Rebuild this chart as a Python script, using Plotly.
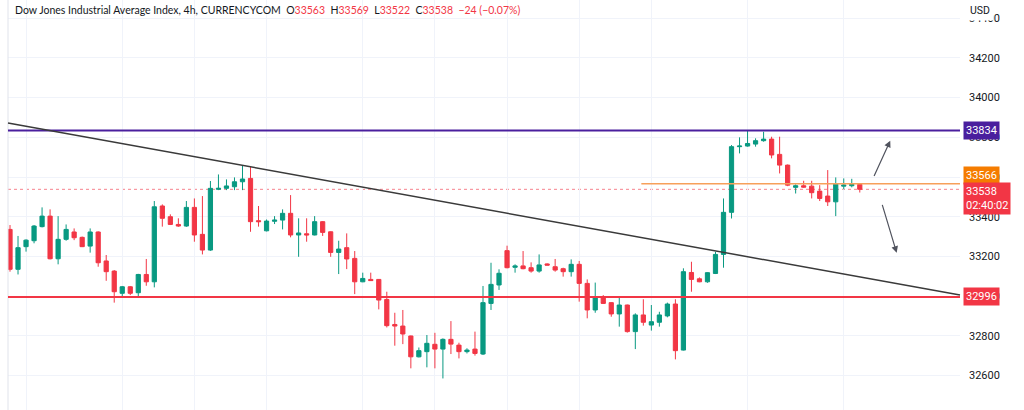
import plotly.graph_objects as go

# ---- data ----
opens = [33336, 33135, 33249, 33279, 33350, 33403, 33188, 33286, 33323, 33296,
         33252, 33323, 33177, 33126, 33014, 33047, 33017, 33109, 33072, 33454,
         33400, 33361, 33353, 33447, 33311, 33232, 33538, 33543, 33551, 33576,
         33593, 33380, 33329, 33377, 33383, 33417, 33308, 33314, 33308, 33375,
         33324, 33220, 33244, 33190, 33072, 33084, 33084, 32983, 32857, 32849,
         32799, 32694, 32720, 32757, 32733, 32782, 32753, 32720, 32733, 32708,
         32963, 33056, 33229, 33145, 33152, 33143, 33126, 33162, 33148, 33138,
         33123, 33160, 33064, 32930, 32997, 32967, 32910, 32955, 32821, 32905,
         32854, 32868, 32900, 32960, 32728, 33119, 33087, 33072, 33114, 33210,
         33422, 33753, 33756, 33766, 33783, 33791, 33714, 33660, 33548, 33556,
         33554, 33529, 33504, 33475, 33554, 33556, 33563]
highs = [33358, 33303, 33286, 33358, 33447, 33437, 33403, 33361, 33341, 33300,
         33341, 33326, 33207, 33131, 33051, 33051, 33112, 33187, 33479, 33462,
         33412, 33392, 33479, 33492, 33504, 33580, 33613, 33588, 33598, 33660,
         33652, 33454, 33386, 33403, 33437, 33509, 33392, 33392, 33403, 33378,
         33326, 33279, 33316, 33227, 33118, 33118, 33086, 33022, 32916, 32930,
         32801, 32741, 32804, 32815, 32787, 32874, 32765, 32737, 32821, 33051,
         33168, 33135, 33254, 33160, 33227, 33170, 33210, 33165, 33187, 33143,
         33185, 33177, 33084, 33068, 33005, 32969, 33000, 32957, 32913, 32984,
         32955, 32921, 32967, 32984, 33140, 33173, 33094, 33120, 33223, 33492,
         33761, 33800, 33832, 33795, 33828, 33803, 33803, 33663, 33563, 33581,
         33581, 33559, 33635, 33598, 33593, 33591, 33569]
lows = [33123, 33109, 33224, 33266, 33346, 33185, 33160, 33279, 33282, 33247,
        33219, 33148, 33077, 32967, 32997, 33005, 32997, 33052, 33044, 33350,
        33358, 33349, 33349, 33274, 33210, 33228, 33534, 33534, 33534, 33534,
        33324, 33350, 33326, 33363, 33336, 33296, 33198, 33274, 33306, 33303,
        33198, 33111, 33136, 33010, 33070, 33076, 32933, 32842, 32750, 32758,
        32636, 32691, 32641, 32636, 32585, 32708, 32686, 32711, 32700, 32703,
        32930, 33031, 33140, 33118, 33135, 33118, 33118, 33156, 33123, 33098,
        33098, 32972, 32888, 32916, 32961, 32896, 32846, 32816, 32733, 32851,
        32826, 32846, 32893, 32681, 32726, 33022, 33070, 33067, 33111, 33143,
        33391, 33719, 33753, 33753, 33778, 33694, 33618, 33554, 33517, 33546,
        33492, 33479, 33454, 33403, 33538, 33548, 33522]
closes = [33135, 33244, 33282, 33353, 33403, 33188, 33286, 33336, 33294, 33249,
          33323, 33168, 33123, 33022, 33047, 33014, 33109, 33072, 33450, 33392,
          33361, 33353, 33447, 33308, 33232, 33543, 33543, 33555, 33576, 33590,
          33375, 33375, 33378, 33383, 33417, 33308, 33318, 33308, 33375, 33321,
          33220, 33237, 33187, 33072, 33089, 33078, 32980, 32851, 32849, 32809,
          32694, 32725, 32762, 32733, 32782, 32758, 32720, 32728, 32711, 32967,
          33059, 33115, 33143, 33152, 33138, 33126, 33157, 33156, 33131, 33123,
          33160, 33064, 32930, 32997, 32963, 32910, 32955, 32821, 32905, 32868,
          32871, 32905, 32960, 32725, 33123, 33084, 33072, 33118, 33210, 33422,
          33753, 33756, 33769, 33783, 33791, 33711, 33660, 33559, 33556, 33549,
          33521, 33492, 33475, 33564, 33559, 33563, 33538]
bars = list(range(len(opens)))

y_ticks = [32600, 32800, 33000, 33200, 33400, 33600, 33800, 34000, 34200, 34400]
y_tick_labels = [str(v) for v in y_ticks]
grid_bars = [2, 14, 23, 32, 44, 53, 62, 71, 80, 92, 104]

title = "Dow Jones Industrial Average Index, 4h, CURRENCYCOM"
change_text = "−24 (−0.07%)"
resistance = 33834
support = 32996
prev_level = 33566
last_price = 33538
countdown = "02:40:02"
trend_start = 33872   # price at left edge of the pane
trend_end = 33005     # price at right edge of the pane
orange_start_bar = 78.75
x_range = [-0.25, 118.5]
y_range = [32426, 34492]
up_arrow = [(107.7, 33598), (109.8, 33783)]
down_arrow = [(108.75, 33467), (110.6, 33218)]

GREEN = "#089981"
RED = "#f23645"
PURPLE = "#4a1f9e"
ORANGE = "#f57c00"
TEXT = "#131722"
FONT = "Roboto"

fig = go.Figure(go.Candlestick(
    x=bars, open=opens, high=highs, low=lows, close=closes,
    increasing=dict(line=dict(color=GREEN, width=1), fillcolor=GREEN),
    decreasing=dict(line=dict(color=RED, width=1), fillcolor=RED),
    whiskerwidth=0, hoverinfo="skip", showlegend=False,
))

shapes = [
    dict(type="line", xref="paper", x0=0, x1=0, yref="paper", y0=0, y1=1,
         line=dict(color="#e0e3eb", width=1)),
    dict(type="line", xref="paper", x0=0, x1=1, yref="y", y0=last_price, y1=last_price,
         line=dict(color="#f7838e", width=1, dash="dot"), layer="below"),
    dict(type="line", xref="paper", x0=0, x1=1, yref="y", y0=resistance, y1=resistance,
         line=dict(color=PURPLE, width=2)),
    dict(type="line", xref="paper", x0=0, x1=1, yref="y", y0=support, y1=support,
         line=dict(color=RED, width=2)),
    dict(type="line", xref="x", x0=orange_start_bar, x1=x_range[1], yref="y",
         y0=prev_level, y1=prev_level, line=dict(color="#f7a05a", width=1.5)),
    dict(type="line", xref="paper", x0=0, x1=1, yref="y", y0=trend_start, y1=trend_end,
         line=dict(color="#3a3a3a", width=1.5)),
]

ohlc = (f"O<span style='color:{RED}'>{opens[-1]}</span>  "
        f"H<span style='color:{RED}'>{highs[-1]}</span>  "
        f"L<span style='color:{RED}'>{lows[-1]}</span>  "
        f"C<span style='color:{RED}'>{closes[-1]}</span>  "
        f"<span style='color:{RED}'>{change_text}</span>")

annotations = [
    dict(xref="paper", yref="paper", x=0, y=1, xanchor="left", yanchor="top",
         xshift=5, yshift=-2, showarrow=False,
         text=title + "  " + ohlc,
         font=dict(family="Lato", size=10.5, color=TEXT)),
    dict(xref="paper", yref="paper", x=1, y=1, xanchor="left", yanchor="top",
         xshift=6, yshift=0, showarrow=False, text="USD", bgcolor="white",
         font=dict(family=FONT, size=10.5, color=TEXT), borderpad=3),
]

def price_box(price, color, text, yshift=0, yanchor="middle"):
    return dict(xref="paper", yref="y", x=1, y=price, xanchor="left", yanchor=yanchor,
                xshift=3, yshift=yshift, showarrow=False, text=text, bgcolor=color,
                borderpad=2, font=dict(family=FONT, size=11, color="white"),
                align="left")

annotations.append(price_box(resistance, PURPLE, str(resistance)))
annotations.append(price_box(support, RED, str(support)))
annotations.append(price_box(prev_level, ORANGE, str(prev_level), yshift=8))
annotations.append(price_box(last_price, RED, f"{last_price}<br>{countdown}",
                             yshift=7, yanchor="top"))

for (tx, ty), (hx, hy) in [up_arrow, down_arrow]:
    annotations.append(dict(xref="x", yref="y", axref="x", ayref="y",
                            x=hx, y=hy, ax=tx, ay=ty, text="", showarrow=True,
                            arrowhead=2, arrowsize=1.1, arrowwidth=1.2,
                            arrowcolor="#50535e"))

fig.update_layout(
    width=1024, height=410,
    margin=dict(l=8, r=64, t=0, b=0, autoexpand=False),
    paper_bgcolor="white", plot_bgcolor="white",
    shapes=shapes, annotations=annotations,
    hovermode=False, dragmode=False,
    boxgap=0.25,
    xaxis=dict(range=x_range, rangeslider=dict(visible=False), showticklabels=False,
               tickvals=grid_bars, showgrid=True, gridcolor="#f0f3fa", gridwidth=1,
               zeroline=False, showline=False, fixedrange=True, automargin=False),
    yaxis=dict(range=y_range, side="right", tickvals=y_ticks, ticktext=y_tick_labels,
               showgrid=True, gridcolor="#f0f3fa", gridwidth=1, zeroline=False,
               showline=False, ticks="", ticklabelstandoff=8, automargin=False,
               tickfont=dict(family=FONT, size=11, color=TEXT), fixedrange=True),
    font=dict(family=FONT),
)

fig.write_html(
    "out.html",
    config={"displayModeBar": False},
    post_script="document.body.style.margin='0';document.body.style.overflow='hidden';",
)
